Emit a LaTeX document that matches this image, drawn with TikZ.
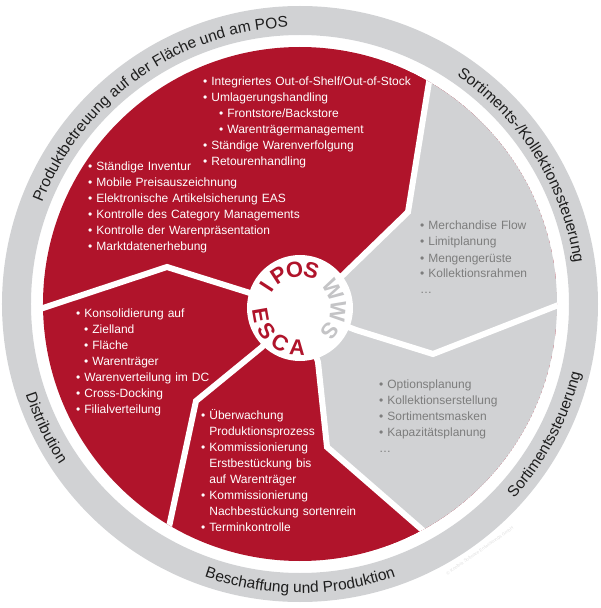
\documentclass[tikz,border=0pt]{standalone}
\usepackage{fontspec}
\setmainfont{Liberation Sans}
\usetikzlibrary{decorations.text}
\definecolor{kred}{RGB}{176,20,43}
\definecolor{kgray}{RGB}{209,210,212}
\definecolor{ktext}{RGB}{125,125,125}
\definecolor{kwws}{RGB}{196,196,198}
\definecolor{kring}{RGB}{30,30,30}
\newcommand{\ringfont}{\fontsize{15.5}{15.5}\selectfont}
\begin{document}
\begin{tikzpicture}[x=1pt,y=1pt,
  listred/.style={anchor=base west, inner sep=0pt, text width=260pt, align=left,
                  font=\fontsize{12}{16}\selectfont, text=white},
  listgray/.style={listred, text=ktext},
  sepline/.style={draw=white, line width=6pt, line join=miter},
  ctrletter/.style={inner sep=0pt, font=\fontsize{22}{22}\selectfont\bfseries, text=kred},
  ringtxt/.style={decorate, decoration={text along path, text align=center, text={#1}}}
]
\useasboundingbox (-300,-304) rectangle (300,304);
% outer ring
\fill[kgray, even odd rule] (0,0) circle (298) (0,0) circle (269);
% inner disc with sectors
\begin{scope}
  \clip (0,0) circle (257);
  \fill[kred] (0,0) circle (257);
  \fill[kgray] (0,-4) -- (43,29) -- (108,92) -- (129,222) -- (137,274) -- (320,320)
     -- (320,-320) -- (170,-267) -- (127,-230) -- (27,-143) -- (18,-58) -- cycle;
  \draw[sepline] (0,-4) -- (43,29) -- (108,92) -- (129,222) -- (137,274);
  \draw[sepline] (0,-4) -- (56,-26) -- (133,-50) -- (261,0) -- (300,15);
  \draw[sepline] (0,-4) -- (18,-58) -- (27,-143) -- (127,-230) -- (170,-267);
  \draw[sepline] (0,-4) -- (-38,-43) -- (-104,-97) -- (-131,-223) -- (-138,-260);
  \draw[sepline] (0,-4) -- (-50,11) -- (-133,37) -- (-260,-5) -- (-300,-17);
\end{scope}
% centre circle
\fill[white] (0,-4) circle (53);
\foreach \ch/\ang in {I/147, P/123, O/98, S/73}
  \node[ctrletter, rotate=\ang-90] (ipos\ang) at ([shift={(\ang:39)}]0,-4) {\ch};
\foreach \ch/\ang in {W/29, W/-5, S/-38}
  \node[ctrletter, text=kwws, rotate=\ang-90] (wws\ang) at ([shift={(\ang:38)}]0,-4) {\ch};
\foreach \ch/\ang in {E/190, S/215, C/240, A/266}
  \node[ctrletter, rotate=\ang+90] (esca\ang) at ([shift={(\ang:40)}]0,-4) {\ch};
% ring texts
\path[ringtxt={|\color{kring}\ringfont|Produktbetreuung auf der Fläche und am POS}]
  (175:277) arc[start angle=175, end angle=76, radius=277];
\path[ringtxt={|\color{kring}\ringfont|Sortiments-/Kollektionssteuerung}]
  (80:277) arc[start angle=80, end angle=-16, radius=277];
\path[ringtxt={|\color{kring}\ringfont|Sortimentssteuerung}]
  (-60:289) arc[start angle=-60, end angle=4, radius=289];
\path[ringtxt={|\color{kring}\ringfont|Beschaffung und Produktion}]
  (-135:289) arc[start angle=-135, end angle=-45, radius=289];
\path[ringtxt={|\color{kring}\ringfont|Distribution}]
  (180:289) arc[start angle=180, end angle=232, radius=289];
% lists
\node[listred] (listA) at (-97,218) {%
  • Integriertes Out-of-Shelf/Out-of-Stock\\
  • Umlagerungshandling\\
  \hspace*{16pt}• Frontstore/Backstore\\
  \hspace*{16pt}• Warenträgermanagement\\
  • Ständige Warenverfolgung\\
  • Retourenhandling};
\node[listred] (listB) at (-212,133) {%
  • Ständige Inventur\\
  • Mobile Preisauszeichnung\\
  • Elektronische Artikelsicherung EAS\\
  • Kontrolle des Category Managements\\
  • Kontrolle der Warenpräsentation\\
  • Marktdatenerhebung};
\node[listgray] (listC) at (120,74) {%
  • Merchandise Flow\\
  • Limitplanung\\
  • Mengengerüste\\
  • Kollektionsrahmen\\
  …};
\node[listgray] (listD) at (79,-84) {%
  • Optionsplanung\\
  • Kollektionserstellung\\
  • Sortimentsmasken\\
  • Kapazitätsplanung\\
  …};
\node[listred] (listE) at (-99,-115) {%
  • Überwachung\\
  \phantom{• }Produktionsprozess\\
  • Kommissionierung\\
  \phantom{• }Erstbestückung bis\\
  \phantom{• }auf Warenträger\\
  • Kommissionierung\\
  \phantom{• }Nachbestückung sortenrein\\
  • Terminkontrolle};
\node[listred] (listF) at (-224,-13) {%
  • Konsolidierung auf\\
  \hspace*{8pt}• Zielland\\
  \hspace*{8pt}• Fläche\\
  \hspace*{8pt}• Warenträger\\
  • Warenverteilung im DC\\
  • Cross-Docking\\
  • Filialverteilung};
% watermark
\node[rotate=35, inner sep=0pt, font=\fontsize{4.5}{5}\selectfont, text=black!12] (wm) at (180,-247) {© Koolbra Software Entwicklungs GmbH};
\end{tikzpicture}
\end{document}
